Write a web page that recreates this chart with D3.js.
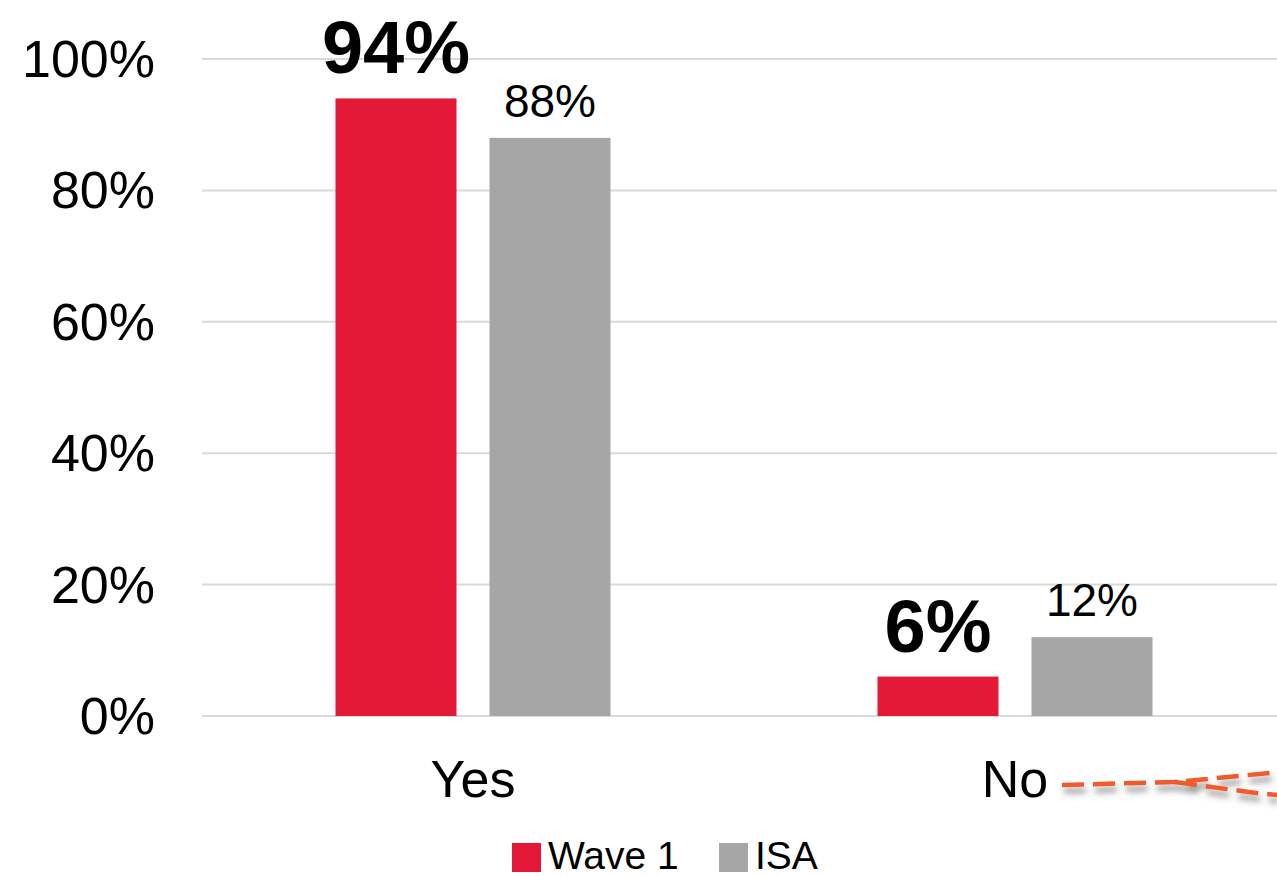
<!DOCTYPE html>
<html>
<head>
<meta charset="utf-8">
<script src="https://cdn.jsdelivr.net/npm/d3@7"></script>
<style>
  html, body { margin: 0; padding: 0; background: #fff; }
  svg { display: block; font-family: "Liberation Sans", Arial, sans-serif; }
</style>
</head>
<body>
<svg id="chart" width="1277" height="876"></svg>
<script>
// Survey answers compared across two sources
const categories = ["Yes", "No"];
const seriesNames = ["Wave 1", "ISA"];
const wave1Values = [94, 6];
const isaValues = [88, 12];
const yTicks = [0, 20, 40, 60, 80, 100];
const colors = ["#e31937", "#a6a6a6"];

const svg = d3.select("#chart");

const x0 = d3.scaleBand().domain(categories).range([202, 1286]).paddingInner(0).paddingOuter(0);
const y = d3.scaleLinear().domain([0, 100]).range([716, 59]);

// gridlines
svg.append("g").selectAll("line").data(yTicks).join("line")
  .attr("x1", 202).attr("x2", 1277)
  .attr("y1", d => y(d)).attr("y2", d => y(d))
  .attr("stroke", "#d9d9d9").attr("stroke-width", 2);

// y axis labels
svg.append("g").selectAll("text").data(yTicks).join("text")
  .attr("x", 155).attr("y", d => y(d) + 18)
  .attr("text-anchor", "end")
  .attr("font-size", 52).attr("fill", "#000")
  .text(d => d + "%");

// bars
const barW = 121, gap = 33;
const groupW = barW * 2 + gap;
const rows = categories.map((c, i) => [
  { cat: c, s: 0, v: wave1Values[i] },
  { cat: c, s: 1, v: isaValues[i] }
]);
const x1 = d => x0(d.cat) + (x0.bandwidth() - groupW) / 2 + d.s * (barW + gap);

const groups = svg.append("g").selectAll("g").data(rows).join("g");
groups.selectAll("rect").data(d => d).join("rect")
  .attr("x", x1)
  .attr("y", d => y(d.v))
  .attr("width", barW)
  .attr("height", d => y(0) - y(d.v))
  .attr("fill", d => colors[d.s]);

// value labels
groups.selectAll("text").data(d => d).join("text")
  .attr("x", d => x1(d) + barW / 2)
  .attr("y", d => y(d.v) - (d.s === 0 ? 25 : 21))
  .attr("text-anchor", "middle")
  .attr("font-size", d => d.s === 0 ? 74 : 46)
  .attr("font-weight", d => d.s === 0 ? "bold" : "normal")
  .attr("fill", "#000")
  .text(d => d.v + "%");

// category labels
svg.append("g").selectAll("text").data(categories).join("text")
  .attr("x", d => x0(d) + x0.bandwidth() / 2)
  .attr("y", 797)
  .attr("text-anchor", "middle")
  .attr("font-size", 52).attr("fill", "#000")
  .text(d => d);

// dashed annotation stroke beside "No"
const defs = svg.append("defs");
const f = defs.append("filter").attr("id", "shadow").attr("x", "-10%").attr("y", "-50%").attr("width", "130%").attr("height", "300%");
f.append("feDropShadow").attr("dx", 2).attr("dy", 6).attr("stdDeviation", 3)
  .attr("flood-color", "#444").attr("flood-opacity", 0.6);
const ann = svg.append("g").attr("filter", "url(#shadow)")
  .attr("fill", "none").attr("stroke", "#f15a2b").attr("stroke-width", 4.5)
  .attr("stroke-dasharray", "22,9");
ann.append("path").attr("d", "M1062,785 L1175,782 L1270,773");
ann.append("path").attr("d", "M1175,782 L1256,793 L1277,795");

// legend
const legend = svg.append("g");
const legX = [512, 719];
seriesNames.forEach((n, i) => {
  legend.append("rect").attr("x", legX[i]).attr("y", 843).attr("width", 29).attr("height", 29).attr("fill", colors[i]);
  legend.append("text").attr("x", legX[i] + 36).attr("y", 869)
    .attr("font-size", 39).attr("fill", "#000").text(n);
});
</script>
</body>
</html>
